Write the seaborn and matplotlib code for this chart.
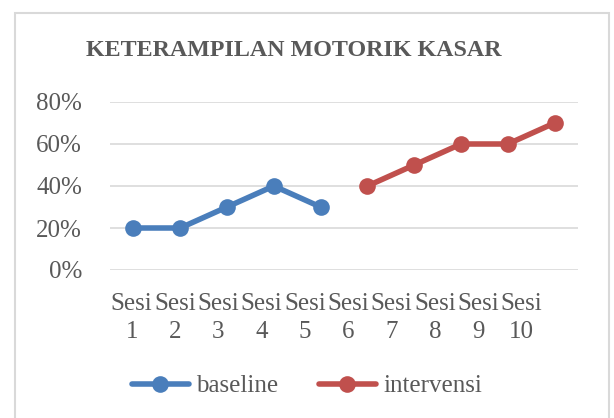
import numpy as np
import pandas as pd
import matplotlib
matplotlib.use('Agg')
import matplotlib.pyplot as plt
import matplotlib.ticker as mticker
from matplotlib.patches import Rectangle
import seaborn as sns

# data
sesi = list(range(1, 11))
sesi_labels = ['Sesi\n%d' % s for s in sesi]
baseline = [0.20, 0.20, 0.30, 0.40, 0.30]
intervensi = [0.40, 0.50, 0.60, 0.60, 0.70]

df = pd.DataFrame({
    'sesi': sesi,
    'nilai': baseline + intervensi,
    'fase': ['baseline'] * len(baseline) + ['intervensi'] * len(intervensi),
})

sns.set_style("white")
plt.rcParams['font.family'] = ['Liberation Serif', 'DejaVu Serif']
grey = '#595959'

fig = plt.figure(figsize=(6.14, 4.18), dpi=100)
ax = fig.add_axes([110 / 614, 1 - 270 / 418, 468 / 614, 168 / 418])

sns.lineplot(data=df, x='sesi', y='nilai', hue='fase',
             palette=['#4A7EBB', '#C0504D'], marker='o', markersize=12,
             markeredgewidth=0, linewidth=4, ax=ax)

ax.set_xlim(0.5, 10.5)
ax.set_ylim(0, 0.8)
ax.set_yticks([0, 0.2, 0.4, 0.6, 0.8])
ax.yaxis.set_major_formatter(mticker.PercentFormatter(1.0, decimals=0))
ax.yaxis.grid(True, color='#D9D9D9', lw=1.2)
ax.set_axisbelow(True)
for s in ax.spines.values():
    s.set_visible(False)

# Excel draws the wrapped category labels a bit narrower than the slots
lab_pos = [0.5 + (131.7 + 43.3 * i - 110) / 46.8 for i in range(len(sesi))]
ax.set_xticks(lab_pos)
ax.set_xticklabels(sesi_labels, linespacing=1.35)
ax.tick_params(axis='x', length=0, pad=16.5, labelsize=18, colors=grey)
ax.tick_params(axis='y', length=0, pad=20, labelsize=18, colors=grey)
ax.set_xlabel('')
ax.set_ylabel('')

fig.text(0.478, 1 - 50 / 418, 'KETERAMPILAN MOTORIK KASAR', ha='center',
         va='center', fontsize=17.3, fontweight='bold', color=grey)

leg = ax.legend(loc='center', bbox_to_anchor=(0.5, 1 - 386 / 418),
                bbox_transform=fig.transFigure, ncol=2, frameon=False,
                fontsize=18, handlelength=2.3, handletextpad=0.3,
                columnspacing=1.6)
for t in leg.get_texts():
    t.set_color(grey)

fig.patches.append(Rectangle((15 / 614, -0.05), 594 / 614, 1.05 - 13 / 418,
                             transform=fig.transFigure, fill=False,
                             edgecolor='#D9D9D9', lw=1.5))

plt.savefig('out.png', dpi=100)
